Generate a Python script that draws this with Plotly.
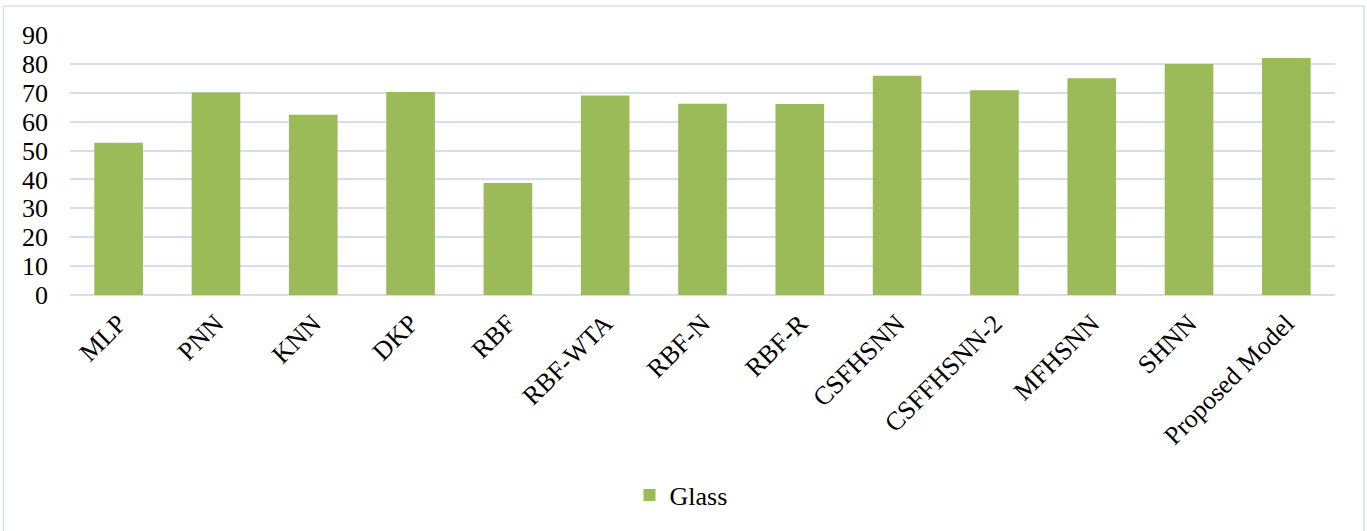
import plotly.graph_objects as go

categories = ["MLP", "PNN", "KNN", "DKP", "RBF", "RBF-WTA", "RBF-N", "RBF-R",
              "CSFHSNN", "CSFFHSNN-2", "MFHSNN", "SHNN", "Proposed Model"]
glass = [52.7, 70.1, 62.4, 70.3, 38.8, 69.1, 66.2, 66.1, 75.9, 70.9, 75.0, 80.0, 82.0]
y_ticks = [0, 10, 20, 30, 40, 50, 60, 70, 80, 90]

W, H = 1367, 531
L, R, T, B = 70, 32, 35, 236
pw, ph = W - L - R, H - T - B

def px_x(p):
    return (p - L) / pw

def px_y(p):
    return (H - B - p) / ph

font = dict(family="Liberation Serif, Times New Roman, serif", size=26, color="#000000")

fig = go.Figure()
fig.add_trace(go.Bar(
    x=categories, y=glass, name="Glass",
    marker=dict(color="#9BBB59", line=dict(width=0)),
))

fig.update_layout(
    width=W, height=H,
    margin=dict(l=L, r=R, t=T, b=B, autoexpand=False),
    paper_bgcolor="white", plot_bgcolor="white",
    font=font,
    bargap=0.5,
    showlegend=True,
    legend=dict(orientation="h", x=px_x(681), y=px_y(495), xanchor="center", yanchor="middle",
                font=font, itemwidth=30),
    xaxis=dict(tickangle=-45, showgrid=False, showline=False, ticks="", tickfont=font,
               range=[-0.5, len(categories) - 0.5], ticklabelstandoff=7),
    yaxis=dict(range=[0, 90], tickvals=y_ticks, showgrid=True, gridcolor="#D3DFEE", gridwidth=1.5,
               zeroline=True, zerolinecolor="#D3DFEE", zerolinewidth=1.5,
               showline=False, ticks="", tickfont=font, ticklabelstandoff=21),
    shapes=[dict(type="rect", xref="paper", yref="paper",
                 x0=px_x(3.5), x1=px_x(1364), y0=px_y(540), y1=px_y(6),
                 line=dict(color="#D3DFEE", width=1.5), fillcolor="rgba(0,0,0,0)", layer="below")],
)

fig.write_html("out.html")
